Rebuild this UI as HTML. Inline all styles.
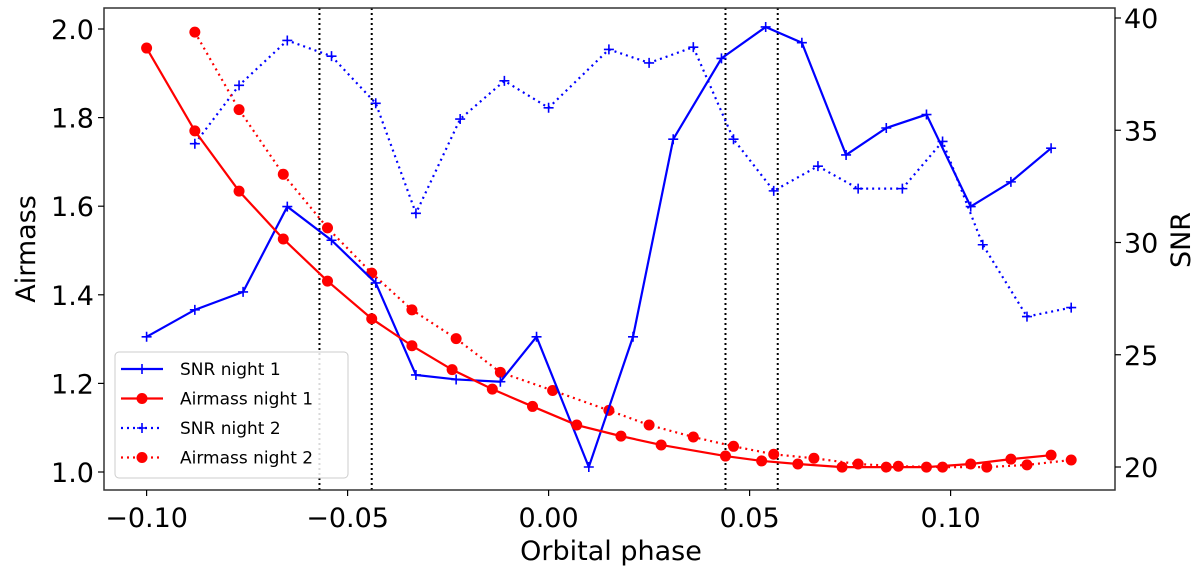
<!DOCTYPE html>
<html><head><meta charset="utf-8"><style>
body{margin:0;background:#fff}
svg{display:block;font-family:"DejaVu Sans","Liberation Sans",sans-serif}
</style></head><body>
<svg id="chart" width="1200" height="572" viewBox="0 0 1200 572" xmlns="http://www.w3.org/2000/svg"></svg>
<script>
const phaseN1=[-0.100,-0.088,-0.076,-0.065,-0.054,-0.043,-0.033,-0.023,-0.012,-0.003,0.010,0.021,0.031,0.043,0.054,0.063,0.074,0.084,0.094,0.105,0.115,0.125];
const snrN1=[25.8,27.0,27.8,31.6,30.1,28.2,24.1,23.9,23.8,25.8,20.0,25.8,34.6,38.2,39.6,38.9,33.9,35.1,35.7,31.6,32.7,34.2];
const phaseA1=[-0.100,-0.088,-0.077,-0.066,-0.055,-0.044,-0.034,-0.024,-0.014,-0.004,0.007,0.018,0.028,0.044,0.053,0.062,0.073,0.084,0.094,0.105,0.115,0.125];
const airN1=[1.957,1.77,1.634,1.526,1.431,1.346,1.285,1.231,1.187,1.148,1.106,1.081,1.061,1.036,1.025,1.018,1.011,1.011,1.011,1.018,1.029,1.038];
const phaseN2=[-0.088,-0.077,-0.065,-0.054,-0.043,-0.033,-0.022,-0.011,0.000,0.015,0.025,0.036,0.046,0.056,0.067,0.077,0.088,0.098,0.108,0.119,0.130];
const snrN2=[34.4,37.0,39.0,38.3,36.2,31.3,35.5,37.2,36.0,38.6,38.0,38.7,34.6,32.3,33.4,32.4,32.4,34.5,29.9,26.7,27.1];
const phaseA2=[-0.088,-0.077,-0.066,-0.055,-0.044,-0.034,-0.023,-0.012,0.001,0.015,0.025,0.036,0.046,0.056,0.066,0.077,0.087,0.098,0.109,0.119,0.130];
const airN2=[1.993,1.818,1.672,1.551,1.449,1.366,1.301,1.225,1.184,1.139,1.106,1.079,1.058,1.040,1.031,1.018,1.013,1.011,1.011,1.016,1.027];
const vlines=[-0.057,-0.044,0.044,0.057];
const xTicks=[-0.10,-0.05,0.00,0.05,0.10];
const xTickLabels=["\u22120.10","\u22120.05","0.00","0.05","0.10"];
const yTicks=[1.0,1.2,1.4,1.6,1.8,2.0];
const y2Ticks=[20,25,30,35,40];

const L=104,R=1115,T=8,B=490;
const X=p=>548.6+4020*p;
const Y=a=>472-443*(a-1);
const Y2=s=>467-22.45*(s-20);
const svg=document.getElementById('chart');
const NS='http://www.w3.org/2000/svg';
function mk(tag,attrs,parent){const e=document.createElementNS(NS,tag);for(const k in attrs)e.setAttribute(k,attrs[k]);(parent||svg).appendChild(e);return e;}

const frame=mk('rect',{x:L,y:T,width:R-L,height:B-T,fill:'#fff',stroke:'none'});



vlines.forEach(v=>{const l=mk('line',{x1:X(v),x2:X(v),y1:T,y2:B,stroke:'#000','stroke-width':2,'stroke-dasharray':'2,3'});

});

function series(xs,ys,yf,color,dash,marker,name){
  const g=mk('g',{});
  
  
  const pts=xs.map((x,i)=>X(x)+','+yf(ys[i])).join(' ');
  const a={points:pts,fill:'none',stroke:color,'stroke-width':2.2};
  if(dash)a['stroke-dasharray']='2,4';
  mk('polyline',a,g);
  xs.forEach((x,i)=>{const cx=X(x),cy=yf(ys[i]);
    if(marker==='o')mk('circle',{cx:cx,cy:cy,r:5.5,fill:color},g);
    else{mk('path',{d:`M${cx-5},${cy}H${cx+5}M${cx},${cy-5}V${cy+5}`,stroke:color,'stroke-width':1.6},g);}
  });
}
series(phaseN2,snrN2,Y2,'#0000ff',true,'+','snr-night-2-series');
series(phaseA2,airN2,Y,'#ff0000',true,'o','airmass-night-2-series');
series(phaseN1,snrN1,Y2,'#0000ff',false,'+','snr-night-1-series');
series(phaseA1,airN1,Y,'#ff0000',false,'o','airmass-night-1-series');

const sp=mk('rect',{x:L,y:T,width:R-L,height:B-T,fill:'none',stroke:'#333','stroke-width':1.5});



xTicks.forEach((t,i)=>{mk('line',{x1:X(t),x2:X(t),y1:B,y2:B+6,stroke:'#000','stroke-width':1.2});
const tx=mk('text',{x:X(t),y:B+37,'font-size':27,'text-anchor':'middle',fill:'#000'});tx.textContent=xTickLabels[i];

});
yTicks.forEach(t=>{mk('line',{x1:L-6,x2:L,y1:Y(t),y2:Y(t),stroke:'#000','stroke-width':1.2});
const tx=mk('text',{x:L-10,y:Y(t)+10,'font-size':27,'text-anchor':'end',fill:'#000'});tx.textContent=t.toFixed(1);

});
y2Ticks.forEach(t=>{mk('line',{x1:R,x2:R+6,y1:Y2(t),y2:Y2(t),stroke:'#000','stroke-width':1.2});
const tx=mk('text',{x:R+9,y:Y2(t)+10,'font-size':27,'text-anchor':'start',fill:'#000'});tx.textContent=t;

});

const xl=mk('text',{x:611,y:560,'font-size':27,'text-anchor':'middle'});xl.textContent='Orbital phase';


const yl=mk('text',{x:0,y:0,'font-size':27,'text-anchor':'middle',transform:'translate(35,249) rotate(-90)'});yl.textContent='Airmass';


const yl2=mk('text',{x:0,y:0,'font-size':27,'text-anchor':'middle',transform:'translate(1190,240) rotate(-90)'});yl2.textContent='SNR';



const lg=mk('g',{});


mk('rect',{x:115,y:352,width:233,height:126,rx:4,fill:'rgba(255,255,255,0.85)',stroke:'#ccc','stroke-width':1},lg);
const entries=[['SNR night 1','#0000ff',false,'+'],['Airmass night 1','#ff0000',false,'o'],['SNR night 2','#0000ff',true,'+'],['Airmass night 2','#ff0000',true,'o']];
entries.forEach((e,i)=>{const y=369+29.5*i;const g=mk('g',{},lg);


const a={x1:121,x2:163,y1:y,y2:y,stroke:e[1],'stroke-width':2.2};if(e[2])a['stroke-dasharray']='2,4';mk('line',a,g);
if(e[3]==='o')mk('circle',{cx:142,cy:y,r:5.5,fill:e[1]},g);else mk('path',{d:`M137,${y}H147M142,${y-5}V${y+5}`,stroke:e[1],'stroke-width':1.6},g);
const t=mk('text',{x:180,y:y+6,'font-size':17,fill:'#000'},g);t.textContent=e[0];});
</script>
</body></html>
